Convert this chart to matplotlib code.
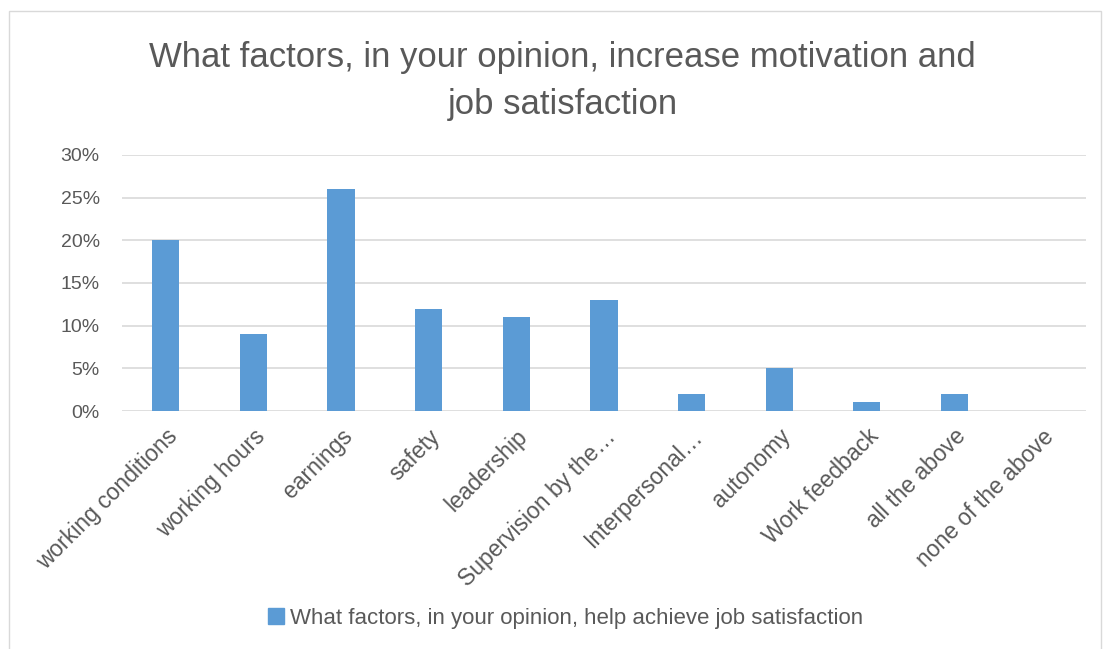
import matplotlib.pyplot as plt
import matplotlib.patches as mpatches
import numpy as np

plt.rcParams['font.family'] = ['Liberation Sans', 'DejaVu Sans']

categories = ["working conditions", "working hours", "earnings", "safety", "leadership",
              "Supervision by the…", "Interpersonal…", "autonomy", "Work feedback",
              "all the above", "none of the above"]
values = [20, 9, 26, 12, 11, 13, 2, 5, 1, 2, 0]
series_name = "What factors, in your opinion, help achieve job satisfaction"
title = "What factors, in your opinion, increase motivation and\njob satisfaction"

bar_color = "#5b9bd5"
text_color = "#595959"
grid_color = "#d9d9d9"

fig = plt.figure(figsize=(11.05, 6.49), dpi=100)
ax = fig.add_axes([0.1104, 0.3667, 0.8724, 0.3945])

x = np.arange(len(categories))
ax.bar(x, values, width=0.31, color=bar_color, zorder=3)
ax.set_xlim(-0.5, len(categories) - 0.5)
ax.set_ylim(0, 30)
ax.set_yticks(range(0, 31, 5))
ax.set_yticklabels([f"{v}%" for v in range(0, 31, 5)], fontsize=14, color=text_color)
ax.yaxis.grid(True, color=grid_color, linewidth=1.2, zorder=0)
ax.set_xticks(x)
ax.set_xticklabels(categories, rotation=45, ha='right', rotation_mode='anchor',
                   fontsize=16.5, color=text_color)
ax.tick_params(axis='y', length=0, pad=16)
ax.tick_params(axis='x', length=0, pad=10)
for s in ax.spines.values():
    s.set_visible(False)

fig.text(0.509, 0.875, title, ha='center', va='center', fontsize=25,
         color=text_color, linespacing=1.55)

fig.legend([mpatches.Patch(color=bar_color)], [series_name], loc='center',
           bbox_to_anchor=(0.512, 0.047), frameon=False, fontsize=16,
           handlelength=0.7, handleheight=0.7, handletextpad=0.3,
           labelcolor=text_color)

# chart border
fig.patches.append(mpatches.Rectangle((9 / 1105, -0.01), 1092 / 1105, 1 - 11 / 649 + 0.01,
                                      transform=fig.transFigure, fill=False,
                                      edgecolor=grid_color, linewidth=1))

fig.savefig("out.png", dpi=100)
